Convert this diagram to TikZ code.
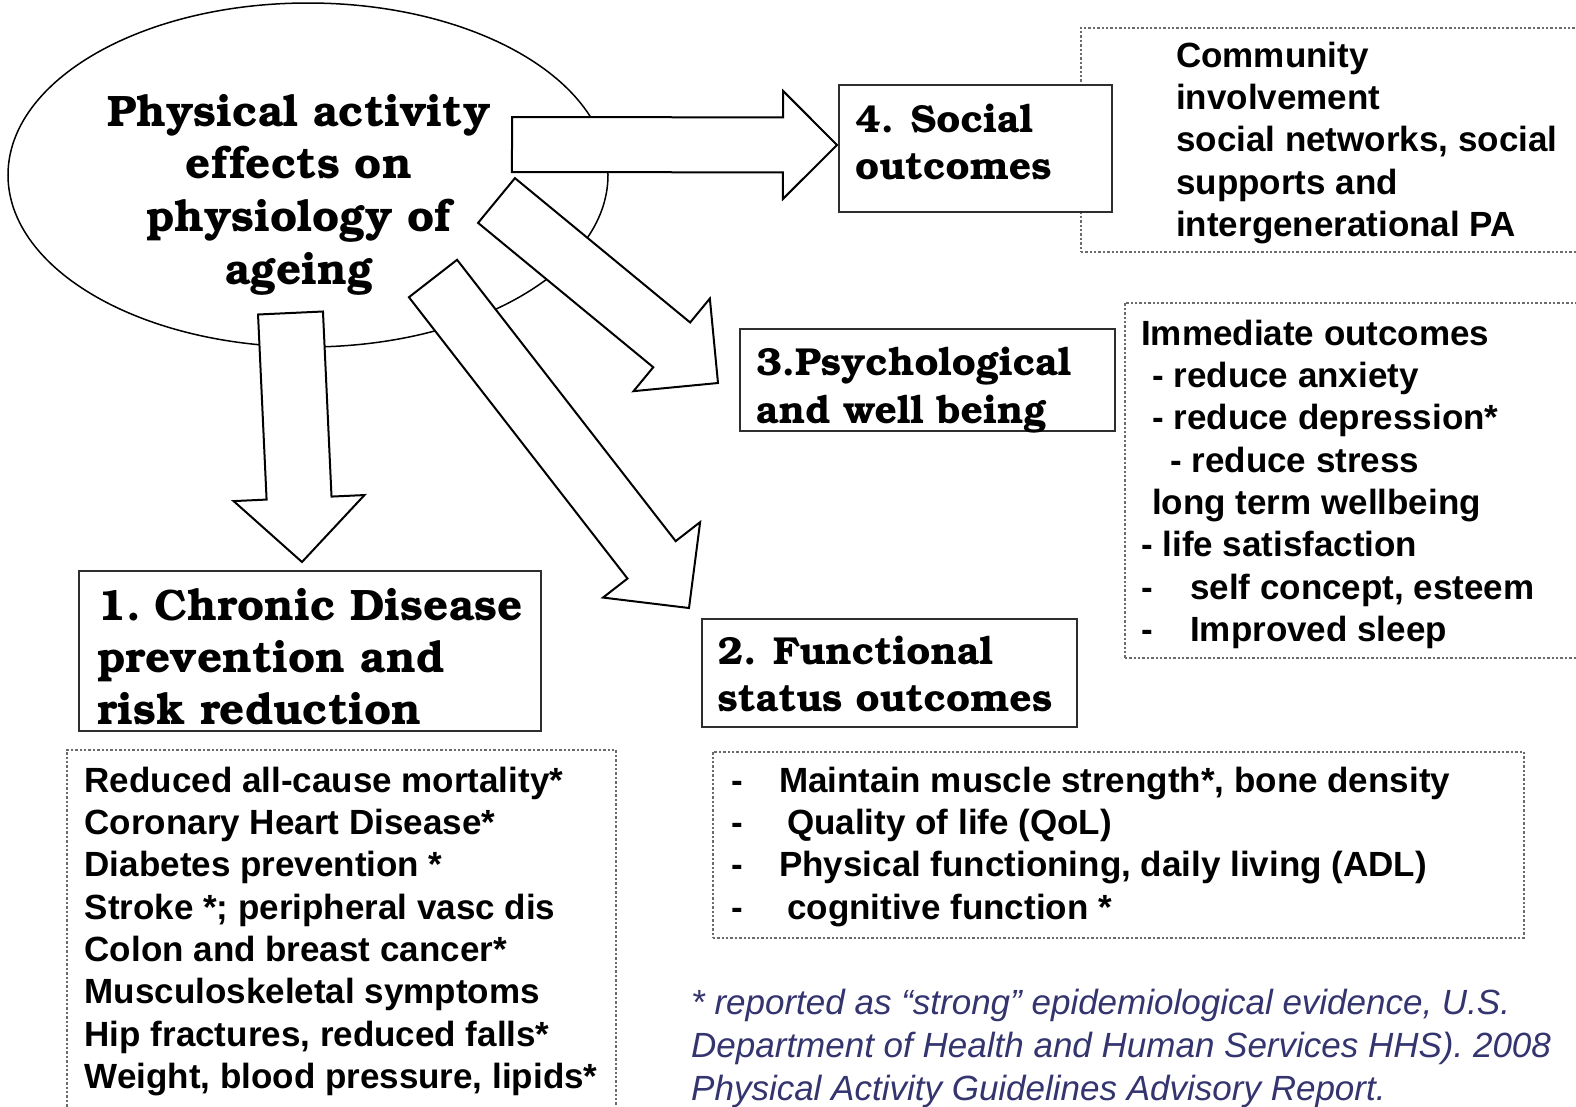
\documentclass[tikz,border=0pt]{standalone}
\usepackage[T1]{fontenc}
\usepackage{fontspec}
\setmainfont{Liberation Sans}
\usetikzlibrary{calc,shapes.geometric}

\definecolor{boxline}{gray}{0.18}
\definecolor{dotline}{gray}{0.42}
\definecolor{notecol}{RGB}{52,52,110}

% bold Bookman for the headings
\newcommand\slab[2]{\fontencoding{T1}\fontfamily{pbk}\fontseries{b}\fontshape{n}\fontsize{#1}{#2}\selectfont}

% block arrow: tail, tip, half shaft width, half head width, head length
\newcommand\blockarrow[5]{%
  \coordinate (#1neck) at ($(#2)!#5!(#1)$);
  \draw[arrowshape]
    ($(#1)!#3!90:(#2)$) -- ($(#1neck)!#3!90:(#2)$) -- ($(#1neck)!#4!90:(#2)$)
    -- (#2)
    -- ($(#1neck)!#4!-90:(#2)$) -- ($(#1neck)!#3!-90:(#2)$) -- ($(#1)!#3!-90:(#2)$)
    -- cycle;}

\begin{document}
\begin{tikzpicture}[x=1pt,y=-1pt,
  box/.style={draw=boxline, fill=white, line width=2.2pt, inner sep=0pt, anchor=north west},
  dotbox/.style={draw=dotline, line width=1.5pt, dash pattern=on 2.4pt off 2pt, inner sep=0pt, anchor=north west},
  arrowshape/.style={draw=black, fill=white, line width=2pt, line join=miter},
  heading/.style={inner sep=0pt, anchor=north west, align=left},
  bodytext/.style={inner sep=0pt, anchor=north west, align=left,
    font=\fontsize{35}{42.3}\selectfont\bfseries},
  notetext/.style={inner sep=0pt, anchor=north west, align=left, text=notecol,
    font=\fontsize{35}{43}\selectfont\itshape}]

\fill[white] (0,0) rectangle (1576,1106);
\useasboundingbox (0,0) rectangle (1576,1106);
\clip (0,0) rectangle (1576,1106);

% central ellipse
\node[draw=black, line width=1.5pt, ellipse, minimum width=600pt, minimum height=344pt, inner sep=0pt] (pa) at (308,175) {};
\node[inner sep=0pt, anchor=north, align=center, font=\slab{44}{52.6}] (patext) at (299,89.2)
  {\strut Physical activity\\effects on\\physiology of\\ageing};

% detail boxes (behind the outcome boxes)
\node[dotbox, minimum width=520pt, minimum height=224pt] (socialdet) at (1080,27) {};
\node[dotbox, minimum width=480pt, minimum height=355pt] (psychdet) at (1124,302) {};
\node[dotbox, minimum width=811pt, minimum height=186pt] (funcdet) at (712,751) {};
\node[dotbox, minimum width=549pt, minimum height=400pt] (chronicdet) at (66,749) {};

% outcome boxes
\node[box, minimum width=273pt, minimum height=127pt] (social) at (838,84) {};
\node[box, minimum width=375pt, minimum height=102pt] (psych) at (739,328) {};
\node[box, minimum width=375pt, minimum height=108pt] (func) at (701,618) {};
\node[box, minimum width=462pt, minimum height=160pt] (chronic) at (78,570) {};

\node[heading, font=\slab{39}{47}] (socialtext) at (855,99.1) {\strut 4. Social\\outcomes};
\node[heading, font=\slab{39}{48}] (psychtext) at (756,341.4) {\strut 3.Psychological\\and well being};
\node[heading, font=\slab{39}{47}] (functext) at (717.5,631.1) {\strut 2. Functional\\status outcomes};
\node[heading, font=\slab{44}{52.3}] (chronictext) at (97,583.4) {\strut 1.\kern-5pt{} Chronic Disease\\prevention and\\risk reduction};

\node[bodytext] (socialitems) at (1176,37.4)
  {\strut Community\\involvement\\social networks, social\\supports and\\intergenerational PA};
\node[bodytext] (psychitems) at (1141,315.4)
  {\strut Immediate outcomes\\
   \hspace*{11pt}- reduce anxiety\\
   \hspace*{11pt}- reduce depression*\\
   \hspace*{29pt}- reduce stress\\
   \hspace*{11pt}long term wellbeing\\
   - life satisfaction\\
   \makebox[49pt][l]{-}self concept, esteem\\
   \makebox[49pt][l]{-}Improved sleep};
\node[bodytext] (funcitems) at (731,762.4)
  {\strut\makebox[48pt][l]{-}Maintain muscle strength*, bone density\\
   \makebox[56pt][l]{-}Quality of life (QoL)\\
   \makebox[48pt][l]{-}Physical functioning, daily living (ADL)\\
   \makebox[56pt][l]{-}cognitive function *};
\node[bodytext] (chronicitems) at (84.5,762.4)
  {\strut Reduced all-cause mortality*\\
   Coronary Heart Disease*\\
   Diabetes prevention *\\
   Stroke *; peripheral vasc dis\\
   Colon and breast cancer*\\
   Musculoskeletal symptoms\\
   Hip fractures, reduced falls*\\
   Weight, blood pressure, lipids*};

\node[notetext] (note) at (691,983.9)
  {\strut * reported as “strong” epidemiological evidence, U.S.\\
   Department of Health and Human Services HHS). 2008\\
   Physical Activity Guidelines Advisory Report.};

% block arrows from the ellipse to the outcome boxes
\coordinate (socA) at (512,144.5);   \coordinate (socB) at (837,145);
\coordinate (psyA) at (496.5,200.5); \coordinate (psyB) at (718,383);
\coordinate (funA) at (433,278.5);   \coordinate (funB) at (689,608);
\coordinate (chrA) at (290.5,313);   \coordinate (chrB) at (302,562);

\blockarrow{socA}{socB}{27.5pt}{54pt}{54pt}
\blockarrow{psyA}{psyB}{29pt}{60pt}{60pt}
\blockarrow{funA}{funB}{30.5pt}{61.5pt}{61pt}
\blockarrow{chrA}{chrB}{32.5pt}{65.5pt}{64pt}

\end{tikzpicture}
\end{document}
